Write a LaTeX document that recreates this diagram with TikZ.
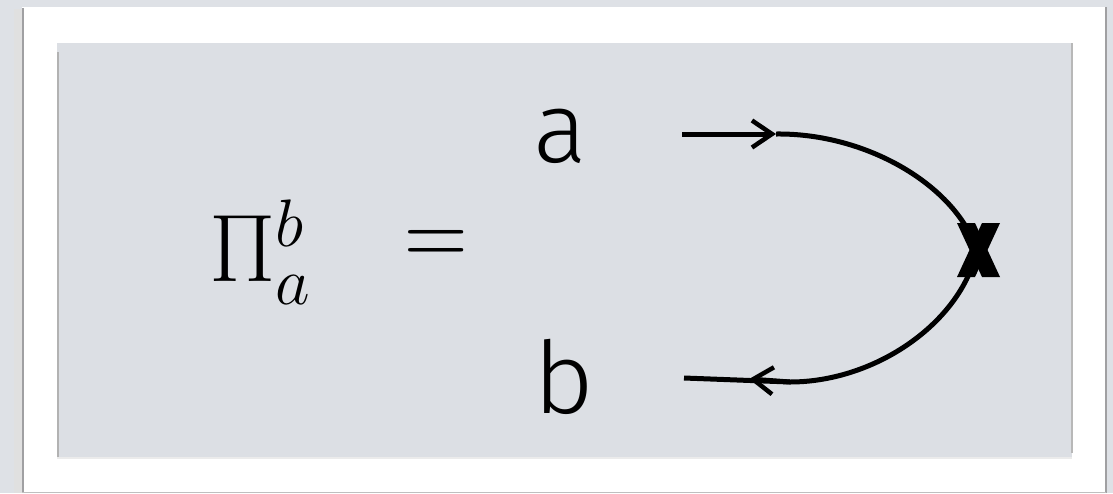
\RequirePackage{fix-cm}
\documentclass[tikz,border=0pt]{standalone}
\usepackage{fontspec}
\usetikzlibrary{arrows.meta}
\newfontfamily\lightsans{Fira Sans Light}
\definecolor{outerbg}{RGB}{222,225,230}
\definecolor{innerbg}{RGB}{220,223,228}
\definecolor{edgegray}{RGB}{160,160,162}
\tikzset{
  wire/.style={line width=5pt, black},
  barb/.style={wire, -{Straight Barb[length=20pt,width=27pt,line width=4.5pt]}},
  lbl/.style={inner sep=0pt, font=\lightsans\fontsize{100}{115}\selectfont},
  mathlbl/.style={inner sep=0pt, font=\fontsize{96}{110}\selectfont},
}
\begin{document}
\begin{tikzpicture}[x=1pt,y=-1pt]
\useasboundingbox (0,0) rectangle (1113,493);
% backgrounds
\fill[outerbg] (0,0) rectangle (1113,493);
\fill[black!12] (14,9) rectangle (22,493);
\fill[white] (22,7) rectangle (1106,492);
\draw[edgegray, line width=2pt] (23,8) -- (23,493);
\draw[edgegray, line width=1.5pt] (1106,7) -- (1106,493);
\draw[black!25, line width=1pt] (22,492) -- (1106,492);
\fill[innerbg] (57,43) rectangle (1072,457);
\draw[black!30, line width=2pt] (58,52) -- (58,457);
\draw[black!28, line width=1.5pt] (1072,43) -- (1072,453);
\draw[black!8, line width=2pt] (57,458) -- (1072,458);
% formula
\node[mathlbl, anchor=base west] (pi) at (209,281) {$\Pi^b_a$};
\node[mathlbl, font=\fontsize{88}{100}\selectfont, yscale=1.15] (eq) at (436,249) {$=$};
\node[lbl, anchor=base] (la) at (560,162) {a};
\node[lbl, anchor=base, xscale=1.05] (lb) at (564,413) {b};
% propagator
\coordinate (ain) at (682,134);
\coordinate (atip) at (776,134);
\coordinate (xc) at (978,250);
\coordinate (xt) at (972,238);
\coordinate (xb) at (973,264);
\coordinate (bj) at (790,382);
\coordinate (btip) at (749,379);
\coordinate (bout) at (684,378);
\draw[barb] (ain) -- (atip);
\draw[wire] (atip) .. controls (862,133) and (945,180) .. (xt);
\draw[wire] (xb) .. controls (950,330) and (870,382) .. (bj) -- (bout);
\draw[barb] (bj) -- (btip);
% cross mark
\node[inner sep=0pt, minimum width=44pt, minimum height=55pt] (x) at (xc) {};
\fill[black] (957,223) -- (975,223) -- (1000,277) -- (982,277) -- cycle;
\fill[black] (982,223) -- (1000,223) -- (975,277) -- (957,277) -- cycle;
\end{tikzpicture}
\end{document}
